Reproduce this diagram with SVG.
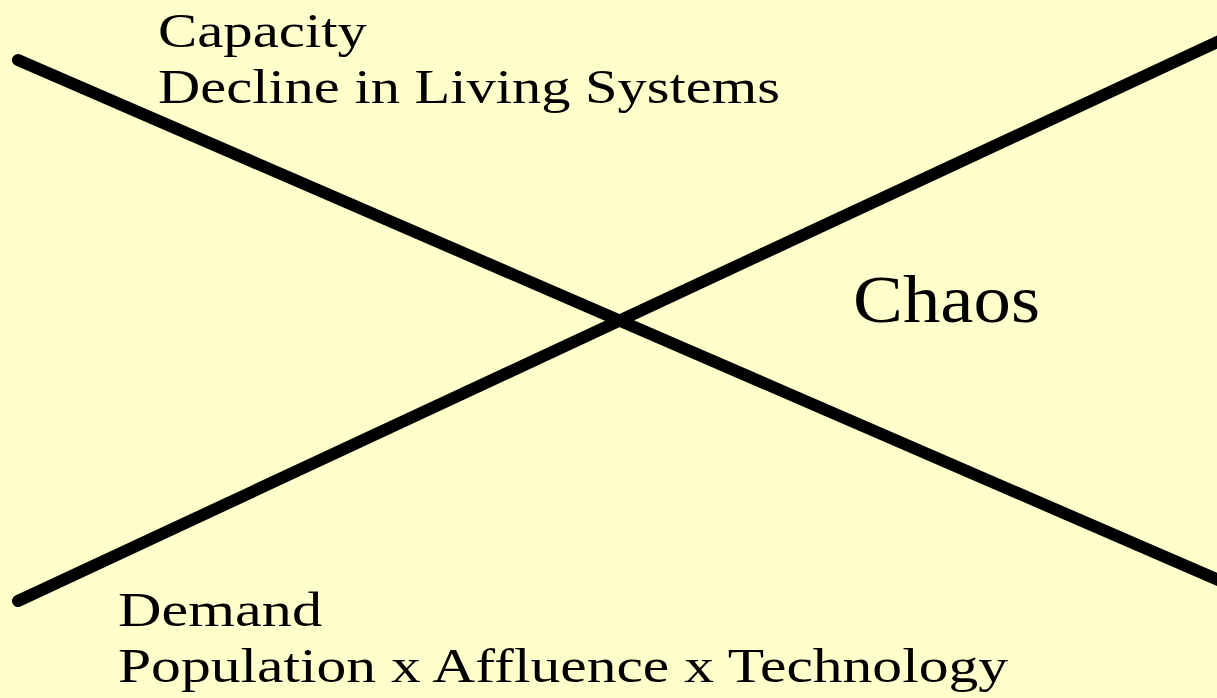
<svg xmlns="http://www.w3.org/2000/svg" width="1217" height="698" viewBox="0 0 1217 698">
<style>
.t{font-family:"Liberation Serif","DejaVu Serif",serif;fill:#000;font-size:49px}
.big{font-size:68px}
.ln{stroke:#000;stroke-width:12;stroke-linecap:round;fill:none}
</style>
<rect width="1217" height="698" fill="#FFFFCC"/>
<g id="connectors">
<line class="ln" x1="18" y1="60" x2="1230" y2="585"/>
<line class="ln" x1="18" y1="601" x2="1230" y2="36"/>
</g>
<g id="capacity">
<text class="t" x="158" y="47" textLength="209" lengthAdjust="spacingAndGlyphs">Capacity</text>
<text class="t" x="158" y="103" textLength="622" lengthAdjust="spacingAndGlyphs">Decline in Living Systems</text>
</g>
<g id="demand">
<text class="t" x="118" y="626" textLength="204" lengthAdjust="spacingAndGlyphs">Demand</text>
<text class="t" x="118" y="682" textLength="890" lengthAdjust="spacingAndGlyphs">Population x Affluence x Technology</text>
</g>
<g id="chaos">
<text class="t big" x="853" y="322" textLength="187" lengthAdjust="spacingAndGlyphs">Chaos</text>
</g>
</svg>
